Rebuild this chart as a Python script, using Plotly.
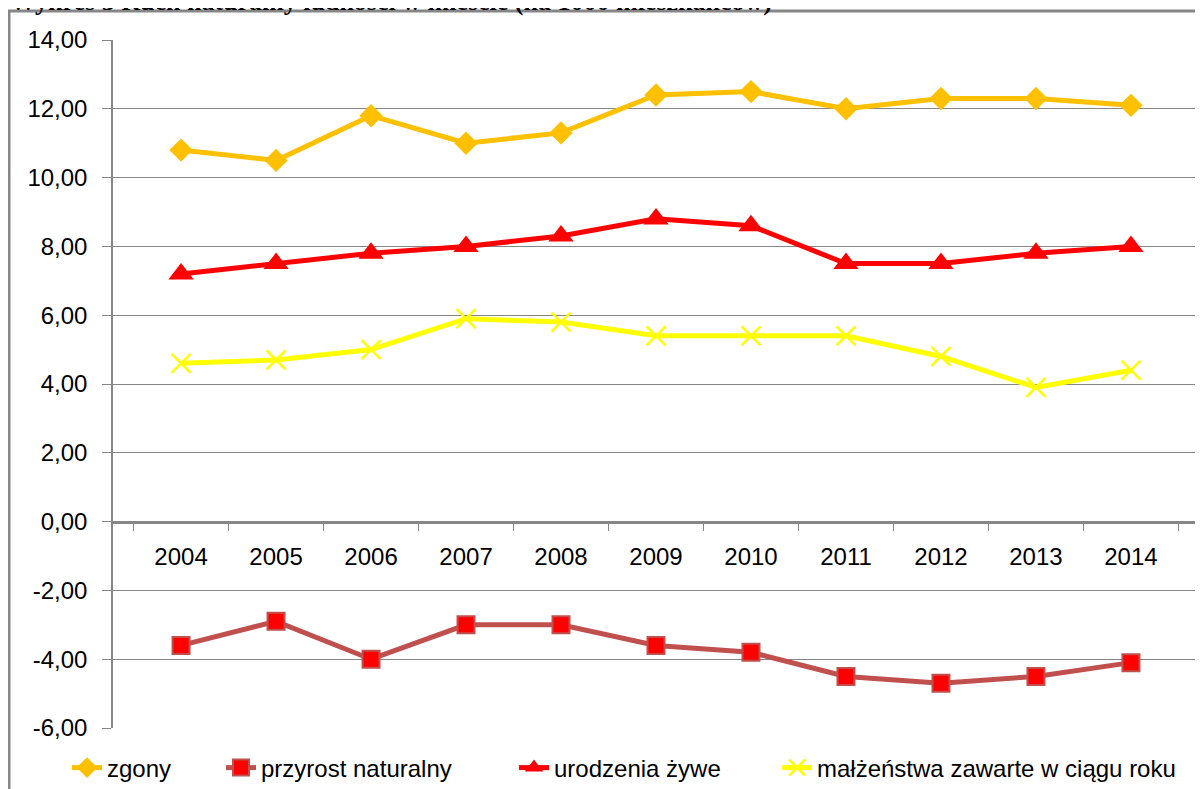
import plotly.graph_objects as go

years = ["2004", "2005", "2006", "2007", "2008", "2009", "2010", "2011", "2012", "2013", "2014"]
zgony = [10.8, 10.5, 11.8, 11.0, 11.3, 12.4, 12.5, 12.0, 12.3, 12.3, 12.1]
przyrost = [-3.6, -2.9, -4.0, -3.0, -3.0, -3.6, -3.8, -4.5, -4.7, -4.5, -4.1]
urodzenia = [7.2, 7.5, 7.8, 8.0, 8.3, 8.8, 8.6, 7.5, 7.5, 7.8, 8.0]
malzenstwa = [4.6, 4.7, 5.0, 5.9, 5.8, 5.4, 5.4, 5.4, 4.8, 3.9, 4.4]

y_ticks = [-6, -4, -2, 0, 2, 4, 6, 8, 10, 12, 14]
y_labels = ["-6,00", "-4,00", "-2,00", "0,00", "2,00", "4,00", "6,00", "8,00", "10,00", "12,00", "14,00"]

TITLE = "Wykres 3 Ruch naturalny ludności w mieście (na 1000 mieszkańców)"
GRID = "#868686"
FONT = "Liberation Sans"

# the page puts the figure 8px in from the top-left corner of the window
OFF = 8
W, H = 1203 - OFF, 789 - OFF
# plot area in window pixels
PL, PR, PT, PB = 113, 1199, 40, 728


def px_x(x):
    return (x - PL) / (PR - PL)


def px_y(y):
    return (PB - y) / (PB - PT)


fig = go.Figure()

fig.add_trace(go.Scatter(
    x=years, y=zgony, name="zgony", mode="lines+markers",
    line=dict(color="#FFC000", width=5),
    marker=dict(symbol="diamond", size=18, color="#FFC000"),
    legend="legend",
))
fig.add_trace(go.Scatter(
    x=years, y=przyrost, name="przyrost naturalny", mode="lines+markers",
    line=dict(color="#C0504D", width=5),
    marker=dict(symbol="square", size=17, color="#FF0000", line=dict(color="#C0504D", width=2)),
    legend="legend2",
))
fig.add_trace(go.Scatter(
    x=years, y=urodzenia, name="urodzenia żywe", mode="lines+markers",
    line=dict(color="#FF0000", width=5),
    marker=dict(symbol="triangle-up", size=22, color="#FF0000"),
    legend="legend3",
))
fig.add_trace(go.Scatter(
    x=years, y=malzenstwa, name="małżeństwa zawarte w ciągu roku", mode="lines+markers",
    line=dict(color="#FFFF00", width=5),
    marker=dict(symbol="x-thin", size=19, color="#FFFF00", line=dict(color="#FFFF00", width=2.5)),
    legend="legend4",
))

legend_style = dict(
    orientation="h", yanchor="middle", xanchor="left",
    font=dict(family=FONT, size=24, color="#000000"),
    bgcolor="rgba(0,0,0,0)", borderwidth=0,
)
legend_x = [67, 221, 514, 777]
legend_y = px_y(768)

fig.update_layout(
    width=W, height=H,
    margin=dict(l=PL - OFF, r=W - (PR - OFF), t=PT - OFF, b=H - (PB - OFF), autoexpand=False),
    paper_bgcolor="white", plot_bgcolor="white",
    font=dict(family=FONT, size=24, color="#000000"),
    showlegend=True,
    legend=dict(x=px_x(legend_x[0]), y=legend_y, **legend_style),
    legend2=dict(x=px_x(legend_x[1]), y=legend_y, **legend_style),
    legend3=dict(x=px_x(legend_x[2]), y=legend_y, **legend_style),
    legend4=dict(x=px_x(legend_x[3]), y=legend_y, **legend_style),
    xaxis=dict(
        type="category", anchor="free", position=6 / 20,
        showline=True, linecolor=GRID, linewidth=2.5,
        ticks="outside", tickson="boundaries", ticklen=8, tickcolor=GRID, tickwidth=1.3,
        showgrid=False, ticklabelstandoff=13,
        tickfont=dict(family=FONT, size=24, color="#000000"),
    ),
    yaxis=dict(
        range=[-6, 14], tickvals=y_ticks, ticktext=y_labels,
        showgrid=True, gridcolor=GRID, gridwidth=1.3,
        showline=True, linecolor=GRID, linewidth=1.5,
        ticks="outside", ticklen=9, tickcolor=GRID, tickwidth=1.3,
        zeroline=False, ticklabelstandoff=10,
        tickfont=dict(family=FONT, size=24, color="#000000"),
    ),
    shapes=[dict(
        type="rect", xref="paper", yref="paper",
        x0=px_x(9), x1=px_x(1230), y0=px_y(820), y1=px_y(11),
        line=dict(color=GRID, width=3), fillcolor="rgba(0,0,0,0)", layer="above",
    )],
    annotations=[dict(
        text=TITLE, xref="paper", yref="paper",
        x=px_x(8), y=px_y(18), xanchor="left", yanchor="bottom",
        showarrow=False,
        font=dict(family="Liberation Serif", size=26, color="#000000", weight="bold"),
    )],
)

fig.write_html("out.html")
